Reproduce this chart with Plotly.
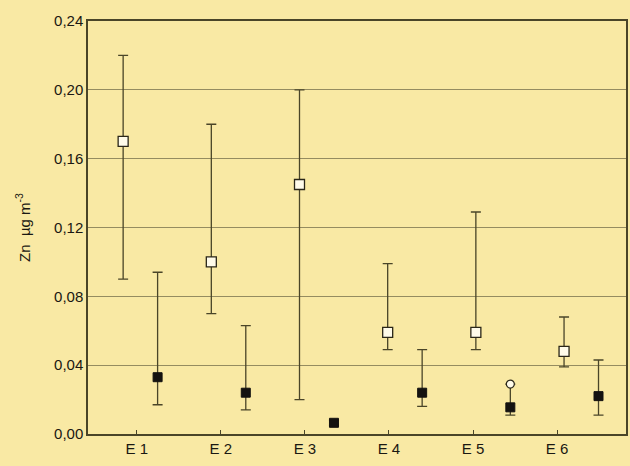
import plotly.graph_objects as go

# ---- data ----
categories = ["E 1", "E 2", "E 3", "E 4", "E 5", "E 6"]

open_mean = [0.170, 0.100, 0.145, 0.059, 0.059, 0.048]
open_upper = [0.220, 0.180, 0.200, 0.099, 0.129, 0.068]
open_lower = [0.090, 0.070, 0.020, 0.049, 0.049, 0.039]

filled_mean = [0.033, 0.024, 0.0065, 0.024, 0.0155, 0.022]
filled_upper = [0.094, 0.063, 0.008, 0.049, 0.029, 0.043]
filled_lower = [0.017, 0.014, 0.005, 0.016, 0.011, 0.011]

outlier_cat = ["E 5"]
outlier_val = [0.029]

y_ticks = [0.00, 0.04, 0.08, 0.12, 0.16, 0.20, 0.24]

# ---- layout helpers ----
tick_pos = list(range(1, len(categories) + 1))
spacing = 1.049
open_start, filled_start = 0.838, 1.248
open_x = [open_start + spacing * k for k in range(len(categories))]
filled_x = [filled_start + spacing * k for k in range(len(categories))]
outlier_x = [filled_x[categories.index(c)] for c in outlier_cat]

line_col = "#4a4528"
bg = "#F9E9A4"

fig = go.Figure()

fig.add_trace(go.Scatter(
    x=open_x, y=open_mean, mode="markers",
    marker=dict(symbol="square", size=10, color="#FFFBEA",
                line=dict(color="#2a2618", width=1.3)),
    error_y=dict(type="data", symmetric=False,
                 array=[u - m for u, m in zip(open_upper, open_mean)],
                 arrayminus=[m - l for m, l in zip(open_mean, open_lower)],
                 color=line_col, thickness=1.3, width=5),
    showlegend=False,
))

fig.add_trace(go.Scatter(
    x=filled_x, y=filled_mean, mode="markers",
    marker=dict(symbol="square", size=9, color="#141210",
                line=dict(color="#141210", width=1)),
    error_y=dict(type="data", symmetric=False,
                 array=[u - m for u, m in zip(filled_upper, filled_mean)],
                 arrayminus=[m - l for m, l in zip(filled_mean, filled_lower)],
                 color=line_col, thickness=1.3, width=5),
    showlegend=False,
))

fig.add_trace(go.Scatter(
    x=outlier_x, y=outlier_val, mode="markers",
    marker=dict(symbol="circle", size=8, color="#FFFBEA",
                line=dict(color="#2a2618", width=1.2)),
    showlegend=False,
))

fig.update_layout(
    width=630, height=466,
    margin=dict(l=88, r=2, t=21, b=32),
    paper_bgcolor=bg, plot_bgcolor=bg,
    separators=",.",
    font=dict(family="Liberation Sans, Arial, sans-serif", size=15, color="#1a1812"),
    xaxis=dict(
        range=[0.42, 6.82], tickmode="array", tickvals=tick_pos, ticktext=categories,
        showgrid=False, zeroline=False,
        showline=True, linecolor=line_col, linewidth=1.5, mirror=True,
        ticks="inside", ticklen=4, tickcolor=line_col,
        tickfont=dict(size=15),
    ),
    yaxis=dict(
        range=[0, 0.24], tickmode="array", tickvals=y_ticks,
        tickformat=".2f",
        showgrid=True, gridcolor="#958c60", gridwidth=1,
        zeroline=False,
        showline=True, linecolor=line_col, linewidth=1.5, mirror=True,
        ticks="", tickfont=dict(size=15),
        title=dict(text="Zn  µg m<sup>-3</sup>", font=dict(size=15), standoff=20),
    ),
)

fig.write_html(
    "out.html",
    config={"displayModeBar": False},
    post_script="document.body.style.margin='0';document.body.style.overflow='hidden';"
                "document.body.style.background='" + bg + "';",
)
